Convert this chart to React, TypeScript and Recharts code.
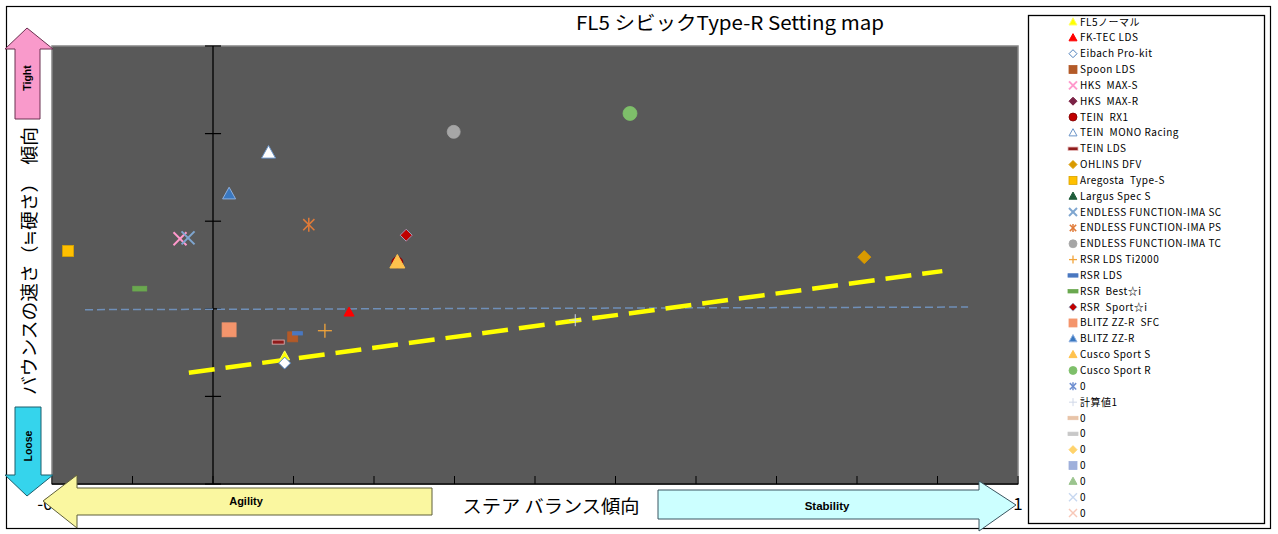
import { ScatterChart, Scatter, XAxis, YAxis, ReferenceLine, ReferenceArea } from 'recharts';

// values (null = series has no visible point)
const SERIES_NAMES = [
  'FL5ノーマル', 'FK-TEC LDS', 'Eibach Pro-kit', 'Spoon LDS', 'HKS  MAX-S', 'HKS  MAX-R',
  'TEIN  RX1', 'TEIN  MONO Racing', 'TEIN LDS', 'OHLINS DFV', 'Aregosta  Type-S', 'Largus Spec S',
  'ENDLESS FUNCTION-IMA SC', 'ENDLESS FUNCTION-IMA PS', 'ENDLESS FUNCTION-IMA TC', 'RSR LDS Ti2000',
  'RSR LDS', 'RSR  Best☆i', 'RSR  Sport☆i', 'BLITZ ZZ-R  SFC', 'BLITZ ZZ-R', 'Cusco Sport S',
  'Cusco Sport R', '0', '計算値1', '0', '0', '0', '0', '0', '0', '0',
];
const SERIES_X: (number | null)[] = [
  0.089, 0.169, 0.089, 0.099, -0.041, 0.24,
  0.229, 0.069, 0.081, 0.809, -0.18, null,
  -0.031, 0.119, 0.299, 0.139,
  0.105, -0.091, 0.24, 0.02, 0.02, 0.229,
  0.518, null, 0.45, null, null, null, null, null, null, null,
];
const SERIES_Y: (number | null)[] = [
  1.46, 1.96, 1.38, 1.68, 2.8, 2.84,
  2.53, 3.78, 1.62, 2.59, 2.66, null,
  2.81, 2.96, 4.02, 1.75,
  1.72, 2.23, 2.84, 1.76, 3.31, 2.53,
  4.23, null, 1.87, null, null, null, null, null, null, null,
];

// yellow dashed guide and the flat blue dashed line
const TREND_X = [-0.03, 0.906];
const TREND_Y = [1.27, 2.43];
const BASE_X = [-0.159, 0.938];
const BASE_Y = [1.99, 2.02];

const X_TICKS = [-0.2, -0.1, 0, 0.1, 0.2, 0.3, 0.4, 0.5, 0.6, 0.7, 0.8, 0.9, 1];
// these labels sit under the axis title box and never show
const X_HIDDEN_LABELS = [0.3, 0.4, 0.5];
const Y_TICKS = [0, 1, 2, 3, 4, 5];

type Kind = 'triangle' | 'diamond' | 'square' | 'x' | 'star' | 'circle' | 'dash' | 'plus';
interface MarkerStyle { kind: Kind; fill: string; stroke?: string; size: number; sw?: number }

const MARKERS: MarkerStyle[] = [
  { kind: 'triangle', fill: '#FFFF00', stroke: '#FFFF66', size: 10 },
  { kind: 'triangle', fill: '#FF0000', size: 10 },
  { kind: 'diamond', fill: '#FFFFFF', stroke: '#4F81BD', size: 12 },
  { kind: 'square', fill: '#B35A28', size: 10 },
  { kind: 'x', fill: '#FF99CC', size: 13, sw: 2 },
  { kind: 'diamond', fill: '#7B2246', size: 12 },
  { kind: 'circle', fill: '#C00000', stroke: '#7F0000', size: 11 },
  { kind: 'triangle', fill: '#FFFFFF', stroke: '#6A94C8', size: 14 },
  { kind: 'dash', fill: '#8E1B1B', stroke: '#E6B8B8', size: 12 },
  { kind: 'diamond', fill: '#D99A00', size: 13 },
  { kind: 'square', fill: '#FFC000', stroke: '#D9A300', size: 11 },
  { kind: 'triangle', fill: '#1E5C3A', size: 12 },
  { kind: 'x', fill: '#7FA6D0', size: 13, sw: 2 },
  { kind: 'star', fill: '#E07B39', size: 14, sw: 1.5 },
  { kind: 'circle', fill: '#A6A6A6', size: 13 },
  { kind: 'plus', fill: '#F2A43A', size: 14, sw: 1.3 },
  { kind: 'dash', fill: '#4A78C0', size: 10 },
  { kind: 'dash', fill: '#6AA84F', size: 14 },
  { kind: 'diamond', fill: '#C00000', stroke: '#A0A0B8', size: 12 },
  { kind: 'square', fill: '#F4956C', size: 14 },
  { kind: 'triangle', fill: '#3A78C0', stroke: '#8DB0E0', size: 13 },
  { kind: 'triangle', fill: '#FFC24D', size: 15 },
  { kind: 'circle', fill: '#7EBF6A', size: 14 },
  { kind: 'star', fill: '#6F8FD0', size: 12, sw: 1.5 },
  { kind: 'plus', fill: '#D0D8E8', size: 12, sw: 1 },
  { kind: 'dash', fill: '#E8C4A8', size: 10 },
  { kind: 'dash', fill: '#C8C8C8', size: 10 },
  { kind: 'diamond', fill: '#FFD36B', size: 10 },
  { kind: 'square', fill: '#9FB0DB', size: 10 },
  { kind: 'triangle', fill: '#9BC48E', size: 10 },
  { kind: 'x', fill: '#C8D8F0', size: 10, sw: 1.5 },
  { kind: 'x', fill: '#F8C8B8', size: 10, sw: 1.5 },
];

function Marker({ cx, cy, m, size }: { cx: number; cy: number; m: MarkerStyle; size?: number }) {
  const s = size ?? m.size;
  const h = s / 2;
  const stroke = m.stroke ?? m.fill;
  const sw = m.sw ?? 1;
  switch (m.kind) {
    case 'triangle':
      return <polygon points={`${cx},${cy - h * 1.05} ${cx + h},${cy + h * 0.75} ${cx - h},${cy + h * 0.75}`} fill={m.fill} stroke={stroke} strokeWidth={1} />;
    case 'diamond':
      return <polygon points={`${cx},${cy - h} ${cx + h},${cy} ${cx},${cy + h} ${cx - h},${cy}`} fill={m.fill} stroke={stroke} strokeWidth={1} />;
    case 'square':
      return <rect x={cx - h} y={cy - h} width={s} height={s} fill={m.fill} stroke={stroke} strokeWidth={0.8} />;
    case 'circle':
      return <circle cx={cx} cy={cy} r={h} fill={m.fill} stroke={stroke} strokeWidth={0.8} />;
    case 'dash':
      return <rect x={cx - h} y={cy - s * 0.17} width={s} height={s * 0.34} fill={m.fill} stroke={stroke} strokeWidth={0.8} />;
    case 'x':
      return (
        <g stroke={m.fill} strokeWidth={sw}>
          <line x1={cx - h} y1={cy - h} x2={cx + h} y2={cy + h} />
          <line x1={cx - h} y1={cy + h} x2={cx + h} y2={cy - h} />
        </g>
      );
    case 'star':
      return (
        <g stroke={m.fill} strokeWidth={sw}>
          <line x1={cx - h * 0.8} y1={cy - h * 0.8} x2={cx + h * 0.8} y2={cy + h * 0.8} />
          <line x1={cx - h * 0.8} y1={cy + h * 0.8} x2={cx + h * 0.8} y2={cy - h * 0.8} />
          <line x1={cx} y1={cy - h} x2={cx} y2={cy + h} />
        </g>
      );
    case 'plus':
      return (
        <g stroke={m.fill} strokeWidth={sw}>
          <line x1={cx - h} y1={cy} x2={cx + h} y2={cy} />
          <line x1={cx} y1={cy - h} x2={cx} y2={cy + h} />
        </g>
      );
  }
  return null;
}

const toPoints = (xs: number[], ys: number[]) => xs.map((x, i) => ({ x, y: ys[i] }));
const fmtTick = (v: number) => {
  if (X_HIDDEN_LABELS.some((h) => Math.abs(h - v) < 1e-9)) return '';
  return v === 0 ? '0' : v === 1 ? '1' : v.toFixed(1);
};
const JP = '"Noto Sans CJK JP", "DejaVu Sans", sans-serif';
const BOLD = '"Liberation Sans", Arial, sans-serif';

function Overlay() {
  return (
    <svg width={1278} height={534} style={{ position: 'absolute', left: 0, top: 0, pointerEvents: 'none' }}>
      {/* chart frame and legend box */}
      <rect x={6.5} y={6.5} width={1264} height={522} fill="none" stroke="#000" strokeWidth={1.2} />
      <rect x={1028.5} y={15.5} width={236} height={508} fill="#fff" stroke="#000" strokeWidth={1.3} />

      <text x={730} y={30} textAnchor="middle" fontFamily={JP} fontSize={19} textLength={308} lengthAdjust="spacingAndGlyphs">
        FL5 シビックType-R Setting map
      </text>

      <text x={36} y={261} transform="rotate(-90, 36, 261)" textAnchor="middle" fontFamily={JP} fontSize={18} textLength={268} lengthAdjust="spacingAndGlyphs">
        バウンスの速さ（≒硬さ）　傾向
      </text>

      {/* axis title box covers the tick labels underneath */}
      <rect x={434} y={487} width={222} height={40} fill="#fff" />
      <text x={551} y={513} textAnchor="middle" fontFamily={JP} fontSize={18} textLength={177} lengthAdjust="spacingAndGlyphs">
        ステア バランス傾向
      </text>

      {/* Tight */}
      <polygon points="27,28 53,49 40,49 40,119 15,119 15,49 5,49" fill="#F99ACB" stroke="#6b3050" strokeWidth={1} />
      <text x={31} y={78} transform="rotate(-90, 31, 78)" textAnchor="middle" fontFamily={BOLD} fontWeight="bold" fontSize={10.5}>Tight</text>

      {/* Loose */}
      <polygon points="15,407 41,407 41,475 53,475 27,496 5,475 15,475" fill="#35D4EC" stroke="#1d5f6d" strokeWidth={1} />
      <text x={32} y={446} transform="rotate(-90, 32, 446)" textAnchor="middle" fontFamily={BOLD} fontWeight="bold" fontSize={10.5}>Loose</text>

      {/* Agility */}
      <polygon points="43,501 77,475 77,488 432,488 432,515 77,515 77,528" fill="#FAF7A0" stroke="#5f5f3a" strokeWidth={1} />
      <text x={246} y={505} textAnchor="middle" fontFamily={BOLD} fontWeight="bold" fontSize={11}>Agility</text>

      {/* Stability */}
      <polygon points="658,490 979,490 979,481 1016,505 979,531 979,519 658,519" fill="#CCFFFF" stroke="#3a5560" strokeWidth={1} />
      <text x={827} y={510} textAnchor="middle" fontFamily={BOLD} fontWeight="bold" fontSize={11.5}>Stability</text>

      {/* legend */}
      {SERIES_NAMES.map((name, i) => {
        const y = 22 + i * 15.84;
        const m = MARKERS[i];
        return (
          <g key={i}>
            <Marker cx={1073} cy={y} m={m} size={m.kind === 'dash' ? 10 : 8} />
            <text x={1080} y={y + 3.5} fontFamily={JP} fontSize={10} letterSpacing={0.5} style={{ whiteSpace: 'pre' }}>{name}</text>
          </g>
        );
      })}
    </svg>
  );
}

export default function App() {
  return (
    <div style={{ position: 'absolute', left: 0, top: 0, width: 1278, height: 534, background: '#fff', overflow: 'hidden' }}>
      <ScatterChart width={1278} height={534} margin={{ top: 46, right: 260, bottom: 10, left: 52 }}>
        <XAxis
          type="number"
          dataKey="x"
          domain={[-0.2, 1]}
          ticks={X_TICKS}
          interval={0}
          tickFormatter={fmtTick}
          height={40}
          axisLine={{ stroke: '#000', strokeWidth: 1.3 }}
          tickLine={{ stroke: '#000' }}
          tickSize={-8}
          tickMargin={22}
          tick={{ fill: '#000', fontSize: 17, fontFamily: JP }}
        />
        <YAxis type="number" dataKey="y" domain={[0, 5]} ticks={Y_TICKS} hide />
        <ReferenceArea x1={-0.2} x2={1} y1={0} y2={5} fill="#595959" fillOpacity={1} stroke="#858585" strokeWidth={1.5} />
        <ReferenceLine x={0} stroke="#000" strokeWidth={1.3} />
        {Y_TICKS.map((v) => (
          <ReferenceLine key={v} segment={[{ x: -0.01, y: v }, { x: 0.01, y: v }]} stroke="#000" strokeWidth={1.2} />
        ))}
        <Scatter
          data={toPoints(BASE_X, BASE_Y)}
          line={{ stroke: '#6F8FB8', strokeWidth: 1.5, strokeDasharray: '8 4' }}
          shape={() => <g />}
          legendType="none"
          isAnimationActive={false}
        />
        <Scatter
          data={toPoints(TREND_X, TREND_Y)}
          line={{ stroke: '#FFFF00', strokeWidth: 4.5, strokeDasharray: '26 11' }}
          shape={() => <g />}
          legendType="none"
          isAnimationActive={false}
        />
        {SERIES_NAMES.map((name, i) => {
          const x = SERIES_X[i];
          const y = SERIES_Y[i];
          const data = x === null || y === null ? [] : [{ x, y }];
          return (
            <Scatter
              key={i}
              name={name}
              data={data}
              shape={(p: any) => <Marker cx={p.cx} cy={p.cy} m={MARKERS[i]} />}
              isAnimationActive={false}
            />
          );
        })}
      </ScatterChart>
      <Overlay />
    </div>
  );
}
